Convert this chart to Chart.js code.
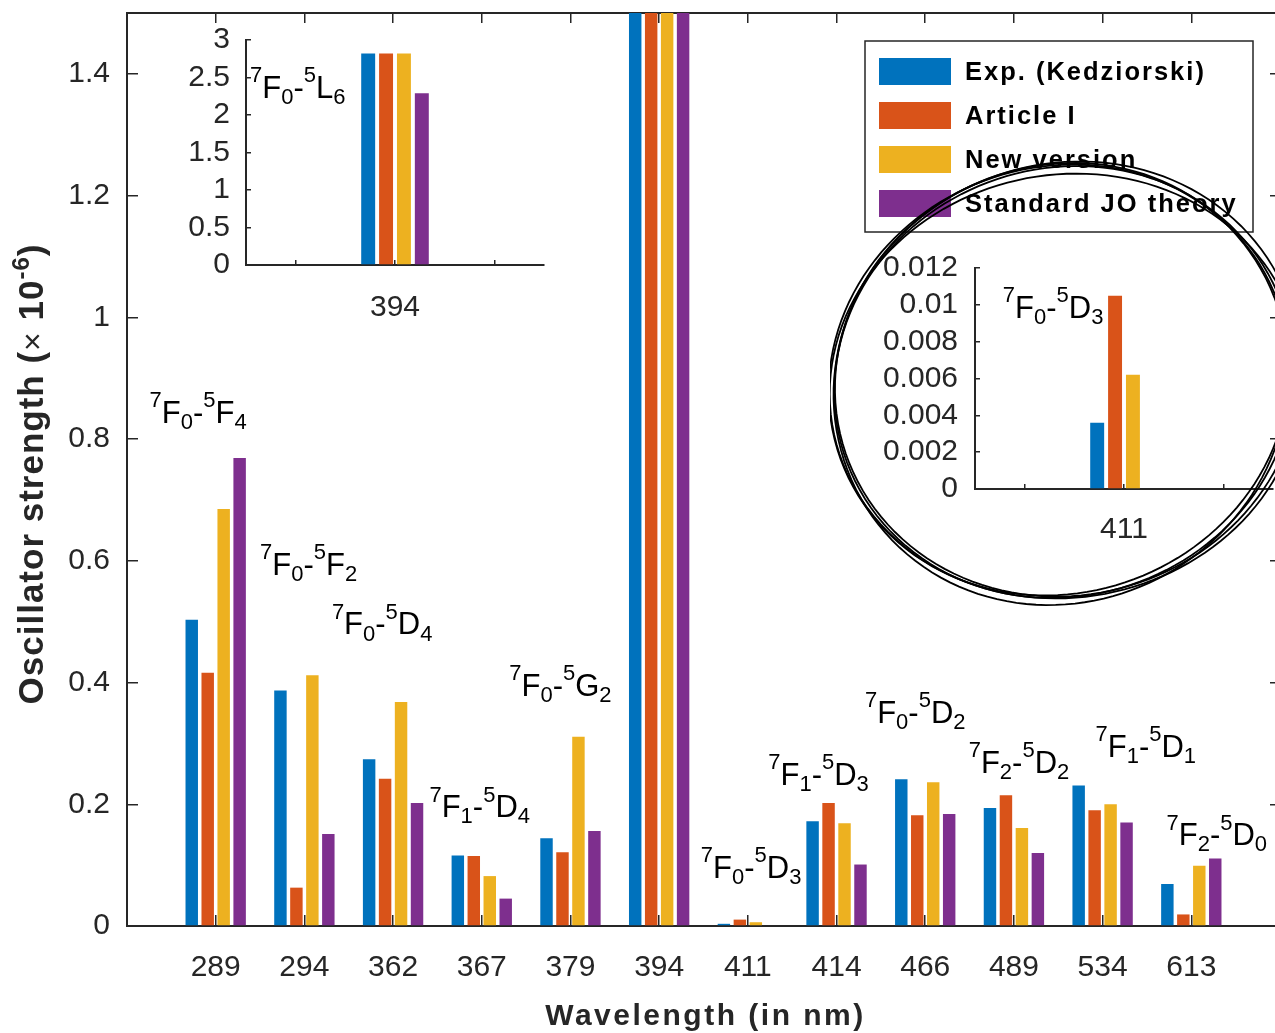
<!DOCTYPE html>
<html>
<head>
<meta charset="utf-8">
<script src="https://cdn.jsdelivr.net/npm/chart.js@4.4.1/dist/chart.umd.min.js"></script>
<style>
html, body { margin: 0; padding: 0; background: #fff; overflow: hidden; }
#wrap { position: relative; width: 1275px; height: 1033px; overflow: hidden; }
#wrap canvas { position: absolute; }
</style>
</head>
<body>
<div id="wrap">
  <canvas id="mainChart" width="1300" height="1033" style="left:0;top:0;width:1300px;height:1033px"></canvas>
  <canvas id="insetL6" width="400" height="310" style="left:160px;top:20px;width:400px;height:310px"></canvas>
  <canvas id="insetD3" width="470" height="465" style="left:830px;top:150px;width:470px;height:465px"></canvas>
</div>
<script>
// values in units of 1e-6
const wavelengths = ['289', '294', '362', '367', '379', '394', '411', '414', '466', '489', '534', '613'];
const expKedziorski = [0.503, 0.387, 0.274, 0.116, 0.144, 2.82, 0.0036, 0.172, 0.241, 0.194, 0.231, 0.069];
const articleI      = [0.416, 0.063, 0.242, 0.115, 0.121, 2.82, 0.0105, 0.202, 0.182, 0.215, 0.190, 0.019];
const newVersion    = [0.685, 0.412, 0.368, 0.082, 0.311, 2.82, 0.0062, 0.169, 0.236, 0.161, 0.200, 0.099];
const standardJO    = [0.769, 0.151, 0.202, 0.045, 0.156, 2.29, 0, 0.101, 0.184, 0.120, 0.170, 0.111];
const seriesNames = ['Exp. (Kedziorski)', 'Article I', 'New version', 'Standard JO theory'];
const seriesColors = ['#0072BD', '#D95319', '#EDB120', '#7E2F8E'];

const mainYTicks = [0, 0.2, 0.4, 0.6, 0.8, 1, 1.2, 1.4];
const insetL6Ticks = [0, 0.5, 1, 1.5, 2, 2.5, 3];
const insetD3Ticks = [0, 0.002, 0.004, 0.006, 0.008, 0.01, 0.012];

// transition names, anchored at a category (dx in category widths, y in data units)
const transitionLabels = [
  { at: '289', text: '^7F_0-^5F_4', dx: -0.745, y: 0.827 },
  { at: '294', text: '^7F_0-^5F_2', dx: -0.50, y: 0.577 },
  { at: '362', text: '^7F_0-^5D_4', dx: -0.69, y: 0.479 },
  { at: '367', text: '^7F_1-^5D_4', dx: -0.59, y: 0.179 },
  { at: '379', text: '^7F_0-^5G_2', dx: -0.69, y: 0.378 },
  { at: '411', text: '^7F_0-^5D_3', dx: -0.53, y: 0.079 },
  { at: '414', text: '^7F_1-^5D_3', dx: -0.77, y: 0.232 },
  { at: '466', text: '^7F_0-^5D_2', dx: -0.68, y: 0.334 },
  { at: '489', text: '^7F_2-^5D_2', dx: -0.51, y: 0.252 },
  { at: '534', text: '^7F_1-^5D_1', dx: -0.08, y: 0.278 },
  { at: '613', text: '^7F_2-^5D_0', dx: -0.28, y: 0.133 }
];

const FONT = "'Liberation Sans', Arial, Helvetica, sans-serif";
const AXIS = '#262626';
const allSeries = [expKedziorski, articleI, newVersion, standardJO];

function fmt(v) { return String(Math.round(v * 1e6) / 1e6); }

function drawTransition(ctx, str, x, y, size) {
  const small = Math.round(size * 0.72);
  ctx.save();
  ctx.fillStyle = '#000';
  ctx.textAlign = 'left';
  ctx.textBaseline = 'alphabetic';
  let i = 0;
  while (i < str.length) {
    let ch = str[i], dy = 0, f = size;
    if (ch === '^' || ch === '_') {
      dy = ch === '^' ? -size * 0.5 : size * 0.2;
      f = small;
      i++;
      ch = str[i];
    }
    ctx.font = f + 'px ' + FONT;
    ctx.fillText(ch, x, y + dy);
    x += ctx.measureText(ch).width;
    i++;
  }
  ctx.restore();
}

function drawRich(ctx, segs, x, y) {
  let w = 0;
  segs.forEach(s => { ctx.font = s.font; w += ctx.measureText(s.t).width; });
  let cx = x - w / 2;
  segs.forEach(s => {
    ctx.font = s.font;
    ctx.fillText(s.t, cx, y + (s.dy || 0));
    cx += ctx.measureText(s.t).width;
  });
}

function labelPos(chart, labels, item) {
  const xs = chart.scales.x, ys = chart.scales.y;
  const idx = labels.indexOf(item.at);
  const step = xs.getPixelForValue(1) - xs.getPixelForValue(0);
  return { x: xs.getPixelForValue(idx) + item.dx * step, y: ys.getPixelForValue(item.y) };
}

function axisGrid(len) {
  return { offset: false, drawOnChartArea: false, drawTicks: true, tickLength: -len, color: AXIS, lineWidth: 1.5 };
}
const axisBorder = { display: true, color: AXIS, width: 2 };
const tickFont = { family: FONT, size: 30 };

// fixed scale box size, no extra label overhang padding
function fixSize(prop, size) {
  return s => {
    s[prop] = size;
    s.paddingTop = 0; s.paddingBottom = 0; s.paddingLeft = 0; s.paddingRight = 0;
  };
}

const padded = arr => [null, ...arr, null];
const mainLabels = padded(wavelengths).map(v => v === null ? '' : v);

const mainDecor = {
  id: 'mainDecor',
  afterDraw(chart) {
    const { ctx, chartArea } = chart;
    transitionLabels.forEach(t => {
      const p = labelPos(chart, mainLabels, t);
      drawTransition(ctx, t.text, p.x, p.y, 31);
    });

    // legend box
    const x0 = chartArea.right - 415, y0 = chartArea.top + 28, w = 388, h = 191;
    ctx.save();
    ctx.fillStyle = '#fff';
    ctx.fillRect(x0, y0, w, h);
    ctx.strokeStyle = AXIS;
    ctx.lineWidth = 1.5;
    ctx.strokeRect(x0, y0, w, h);
    ctx.font = 'bold 25.5px ' + FONT;
    ctx.letterSpacing = '2px';
    ctx.textBaseline = 'middle';
    chart.data.datasets.forEach((ds, i) => {
      const cy = y0 + 30.5 + i * 44;
      ctx.fillStyle = ds.backgroundColor;
      ctx.fillRect(x0 + 14, cy - 13.5, 72, 27);
      ctx.fillStyle = '#000';
      ctx.fillText(ds.label, x0 + 100, cy + 1);
    });
    ctx.restore();

    // axis titles
    ctx.save();
    ctx.fillStyle = AXIS;
    ctx.textBaseline = 'alphabetic';
    ctx.letterSpacing = '2.5px';
    drawRich(ctx, [{ t: 'Wavelength (in nm)', font: 'bold 30px ' + FONT }], (chartArea.left + chartArea.right) / 2 + 2, 1025);
    ctx.restore();

    ctx.save();
    ctx.fillStyle = AXIS;
    ctx.textBaseline = 'alphabetic';
    ctx.letterSpacing = '1px';
    ctx.translate(43, 474);
    ctx.rotate(-Math.PI / 2);
    drawRich(ctx, [
      { t: 'Oscillator strength (', font: 'bold 35px ' + FONT },
      { t: '\u00d7', font: '32px ' + FONT },
      { t: ' 10', font: 'bold 35px ' + FONT },
      { t: '-6', font: 'bold 24px ' + FONT, dy: -14 },
      { t: ')', font: 'bold 35px ' + FONT }
    ], 0, 0);
    ctx.restore();
  }
};

new Chart(document.getElementById('mainChart'), {
  type: 'bar',
  data: {
    labels: mainLabels,
    datasets: seriesNames.map((name, i) => ({
      label: name,
      data: padded(allSeries[i]),
      backgroundColor: seriesColors[i],
      borderWidth: 0,
      categoryPercentage: 0.72,
      barPercentage: 0.78,
      clip: 0
    }))
  },
  options: {
    responsive: false,
    animation: false,
    layout: { padding: 0 },
    plugins: { legend: { display: false }, tooltip: { enabled: false } },
    scales: {
      x: {
        type: 'category', position: 'bottom', offset: false,
        grid: axisGrid(11), border: axisBorder,
        ticks: { font: tickFont, color: AXIS, padding: 35, maxRotation: 0, autoSkip: false },
        afterFit: fixSize('height', 107)
      },
      xTop: {
        type: 'category', position: 'top', offset: false,
        grid: axisGrid(10), border: axisBorder,
        ticks: { display: false },
        afterFit: fixSize('height', 13)
      },
      y: {
        type: 'linear', position: 'left', min: 0, max: 1.5,
        grid: axisGrid(11), border: axisBorder,
        ticks: { font: tickFont, color: AXIS, padding: 28, callback: fmt, autoSkip: false },
        afterBuildTicks: s => { s.ticks = mainYTicks.map(v => ({ value: v })); },
        afterFit: fixSize('width', 127)
      },
      yRight: {
        type: 'linear', position: 'right', min: 0, max: 1.5,
        grid: axisGrid(10), border: axisBorder,
        ticks: { display: false },
        afterBuildTicks: s => { s.ticks = mainYTicks.map(v => ({ value: v })); },
        afterFit: fixSize('width', 20)
      }
    }
  },
  plugins: [mainDecor]
});

function makeInset(id, wl, yMax, yTicks, label, geom, extraDraw) {
  const idx = wavelengths.indexOf(wl);
  const labels = ['', wl, ''];
  new Chart(document.getElementById(id), {
    type: 'bar',
    data: {
      labels: labels,
      datasets: seriesNames.map((name, i) => ({
        label: name,
        data: [null, allSeries[i][idx], null],
        backgroundColor: seriesColors[i],
        borderWidth: 0,
        categoryPercentage: 0.72,
        barPercentage: 0.78,
        clip: 0
      }))
    },
    options: {
      responsive: false,
      animation: false,
      layout: { padding: { top: geom.top, right: geom.right, left: 0, bottom: 0 } },
      plugins: { legend: { display: false }, tooltip: { enabled: false } },
      scales: {
        x: {
          type: 'category', position: 'bottom', offset: true,
          grid: axisGrid(5), border: axisBorder,
          ticks: { font: tickFont, color: AXIS, padding: geom.xPad, maxRotation: 0, autoSkip: false },
          afterFit: fixSize('height', geom.xh)
        },
        y: {
          type: 'linear', position: 'left', min: 0, max: yMax,
          grid: axisGrid(5), border: axisBorder,
          ticks: { font: tickFont, color: AXIS, padding: geom.yPad, callback: fmt, autoSkip: false },
          afterBuildTicks: s => { s.ticks = yTicks.map(v => ({ value: v })); },
          afterFit: fixSize('width', geom.yw)
        }
      }
    },
    plugins: [{
      id: id + 'Decor',
      afterDraw(chart) {
        const p = labelPos(chart, labels, label);
        drawTransition(chart.ctx, label.text, p.x, p.y, 31);
        if (extraDraw) extraDraw(chart);
      }
    }]
  });
}

function drawScribble(chart) {
  const { ctx, chartArea } = chart;
  const cx = chartArea.left + 89, cy = chartArea.top + 114;
  const rx = 224, ry = 221;
  const loops = [[0, 0, 0, 0, 0], [4, -3, 3, 2, 0.03], [-3, 2, -2, 5, -0.02], [2, 4, 6, -3, 0.05], [-5, -2, 1, -1, -0.04]];
  ctx.save();
  ctx.strokeStyle = '#000';
  ctx.lineWidth = 1.8;
  loops.forEach(([dx, dy, drx, dry, rot]) => {
    ctx.beginPath();
    for (let k = 0; k <= 140; k++) {
      const t = k / 140 * 2 * Math.PI;
      const r = 1 + 0.035 * Math.cos(2 * t + 0.8);
      const px = (rx + drx) * Math.cos(t) * r, py = (ry + dry) * Math.sin(t) * r;
      const x = cx + dx + px * Math.cos(rot) - py * Math.sin(rot);
      const y = cy + dy + px * Math.sin(rot) + py * Math.cos(rot);
      if (k === 0) ctx.moveTo(x, y); else ctx.lineTo(x, y);
    }
    ctx.stroke();
  });
  ctx.restore();
}

makeInset('insetL6', '394', 3, insetL6Ticks,
  { at: '394', text: '^7F_0-^5L_6', dx: -1.46, y: 2.227 },
  { top: 20, right: 16, xh: 65, yw: 86, xPad: 30, yPad: 21 });

makeInset('insetD3', '411', 0.012, insetD3Ticks,
  { at: '411', text: '^7F_0-^5D_3', dx: -1.22, y: 0.00929 },
  { top: 118, right: 27, xh: 126, yw: 145, xPad: 28, yPad: 22 },
  drawScribble);
</script>
</body>
</html>
